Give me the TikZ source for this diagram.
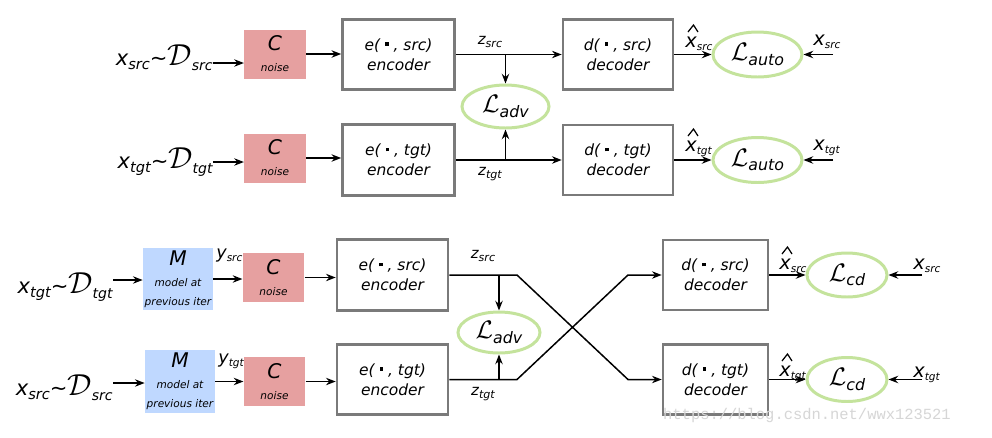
\documentclass[tikz,border=0pt]{standalone}
\usepackage{graphicx}
\usepackage{fontspec}
\setmainfont{DejaVu Sans}
\newfontfamily\wmfont{Liberation Mono}
\usetikzlibrary{arrows.meta,calc,shapes.geometric}
\definecolor{boxgray}{HTML}{7A7A7A}
\definecolor{cpink}{HTML}{E6A0A0}
\definecolor{mblue}{HTML}{BFD8FF}
\definecolor{lgreen}{HTML}{C4E39C}
\newcommand\dotsq{\raisebox{0.28em}{\rule{0.24em}{0.24em}}}
\newcommand\fs[1]{\fontsize{#1}{#1}\selectfont}
\newcommand\Lbig[1]{{\fs{13.6}$\mathcal{L}$}\raisebox{-2.5pt}{\fs{9}#1}}
\newcommand\xsub[2]{{\fs{8.5}#1}\raisebox{-2pt}{\fs{6.3}#2}}
\newcommand\xlab[2]{{\fs{11}#1}\raisebox{-1.8pt}{\fs{6}#2}}
\newcommand\dist[2]{{\fs{12}x}\raisebox{-2.8pt}{\fs{8.3}#1}{\fs{12}\textasciitilde}{\fs{18}$\mathcal{D}$}\raisebox{-3.4pt}{\fs{8}#2}}
\newcommand\Cnoise{{\fontsize{11.5}{11}\selectfont C}\\[0pt]{\fontsize{6}{7}\selectfont noise}}
\newcommand\Mmodel{{\fontsize{11.5}{11}\selectfont M}\\[0pt]{\fontsize{6}{7.2}\selectfont model at}\\[-1pt]{\fontsize{6}{7.2}\selectfont previous iter}}
\begin{document}
\begin{tikzpicture}[x=0.02cm,y=-0.02cm,
  box/.style={draw=boxgray,line width=1.5pt,fill=white,align=center,font=\itshape\fontsize{8.8}{11.5}\selectfont,inner sep=0pt},
  encbox/.style={box,minimum width=2.24cm,minimum height=1.41cm},
  decbox/.style={box,minimum width=2.15cm,minimum height=1.40cm},
  cbox/.style={fill=cpink,align=center,inner sep=0pt,font=\itshape,minimum width=1.23cm,minimum height=0.98cm},
  mbox/.style={fill=mblue,align=center,inner sep=0pt,font=\itshape,minimum width=1.4cm,minimum height=1.25cm},
  loss/.style={ellipse,draw=lgreen,line width=1.7pt,inner sep=0pt,font=\itshape},
  lbl/.style={font=\itshape,inner sep=0pt},
  arr/.style={-{Stealth[length=5.5pt,width=4.2pt]},line width=0.85pt},
  hatline/.style={line width=0.7pt,line join=miter},
  ln/.style={line width=0.85pt}]
\fill[white] (0,0) rectangle (992,437);
\useasboundingbox (0,0) rectangle (992,437);

% ---------- top section ----------
\node[lbl,anchor=base east] (t1) at (213,65) {\dist{src}{src}};
\node[lbl,anchor=base east] (t2) at (213,168) {\dist{tgt}{tgt}};
\node[cbox] (c1) at (275,54) {\Cnoise};
\node[cbox] (c2) at (275,158) {\Cnoise};
\node[encbox] (e1) at (398.5,54.5) {e( \dotsq\ , src)\\encoder};
\node[encbox] (e2) at (398.5,160) {e( \dotsq\ , tgt)\\encoder};
\node[decbox,minimum width=2.2cm] (d1) at (618,54.5) {d( \dotsq\ , src)\\decoder};
\node[decbox,minimum width=2.2cm] (d2) at (618,160) {d( \dotsq\ , tgt)\\decoder};
\node[loss,minimum width=1.74cm,minimum height=0.86cm] (adv1) at (505.5,106.5) {\Lbig{adv}};
\node[loss,minimum width=1.78cm,minimum height=0.9cm] (la1) at (757.5,54.5) {\Lbig{auto}};
\node[loss,minimum width=1.78cm,minimum height=0.9cm] (la2) at (757.5,160) {\Lbig{auto}};

\coordinate (t1e) at ($(t1.base east)+(0,-2)$);
\coordinate (t2e) at ($(t2.base east)+(0,-6)$);
\draw[arr] (t1e) -- (t1e -| c1.west);
\draw[arr] (t2e) -- (t2e -| c2.west);
\draw[arr] (c1.east) -- (c1.east -| e1.west);
\draw[arr] (c2.east) -- (c2.east -| e2.west);
\draw[arr] (e1.east) -- (e1.east -| d1.west);
\draw[arr] (e2.east) -- (e2.east -| d2.west);
\draw[arr] (adv1.north |- e1.east) -- (adv1.north);
\draw[arr] (adv1.south |- e2.east) -- (adv1.south);
\node[lbl] (zs1) at (490,42) {\xsub{z}{src}};
\node[lbl] (zt1) at (490,174) {\xsub{z}{tgt}};
\draw[arr] (d1.east) -- (d1.east -| la1.west);
\draw[arr] (d2.east) -- (d2.east -| la2.west);
\node[lbl,anchor=base west] (xh1) at (685,47) {\xlab{x}{src}};
\node[lbl,anchor=base west] (xh2) at (685,151) {\xlab{x}{tgt}};
\coordinate (r1) at (833,54.5);
\coordinate (r2) at (833,160);
\draw[arr] (r1) -- (la1.east);
\draw[arr] (r2) -- (la2.east);
\node[lbl,anchor=base west] (xs1) at (813,45) {\xlab{x}{src}};
\node[lbl,anchor=base west] (xt1) at (813,150) {\xlab{x}{tgt}};

% ---------- bottom section ----------
\node[lbl,anchor=base east] (t3) at (113,293) {\dist{tgt}{tgt}};
\node[lbl,anchor=base east] (t4) at (113,395) {\dist{src}{src}};
\node[mbox] (m1) at (178,279) {\Mmodel};
\node[mbox] (m2) at (180,381.5) {\Mmodel};
\node[cbox] (c3) at (273.5,277.5) {\Cnoise};
\node[cbox] (c4) at (274.5,381.5) {\Cnoise};
\node[encbox,minimum width=2.22cm] (e3) at (392.5,275) {e( \dotsq\ , src)\\encoder};
\node[encbox,minimum width=2.22cm] (e4) at (392.5,379.5) {e( \dotsq\ , tgt)\\encoder};
\node[decbox,minimum width=2.1cm] (d3) at (715.5,275) {d( \dotsq\ , src)\\decoder};
\node[decbox,minimum width=2.1cm] (d4) at (715.5,379.5) {d( \dotsq\ , tgt)\\decoder};
\node[loss,minimum width=1.64cm,minimum height=0.82cm] (adv2) at (499,332.5) {\Lbig{adv}};
\node[loss,minimum width=1.6cm,minimum height=0.88cm] (cd1) at (847,275) {\Lbig{cd}};
\node[loss,minimum width=1.6cm,minimum height=0.88cm] (cd2) at (847,379.5) {\Lbig{cd}};

\coordinate (t3e) at ($(t3.base east)+(0,-13)$);
\coordinate (t4e) at ($(t4.base east)+(0,-12)$);
\draw[arr] (t3e) -- (t3e -| m1.west);
\draw[arr] (t4e) -- (t4e -| m2.west);
\draw[arr] (m1.east) -- (m1.east -| c3.west);
\draw[arr] (m2.east) -- (m2.east -| c4.west);
\node[lbl,anchor=base west] (ys) at (216,258) {\xlab{\fs{10}y}{src}};
\node[lbl,anchor=base west] (yt) at (218,363) {\xlab{\fs{10}y}{tgt}};
\draw[arr] (c3.east) -- (c3.east -| e3.west);
\draw[arr] (c4.east) -- (c4.east -| e4.west);

\coordinate (k1) at (517,275);
\coordinate (k2) at (628,379.5);
\coordinate (k3) at (517,379.5);
\coordinate (k4) at (628,275);
\draw[arr] (e3.east) -- (k1) -- (k2) -- (d4.west);
\draw[arr] (e4.east) -- (k3) -- (k4) -- (d3.west);
\draw[arr] (adv2.north |- e3.east) -- (adv2.north);
\draw[arr] (adv2.south |- e4.east) -- (adv2.south);
\node[lbl] (zs2) at (483,256) {\xsub{z}{src}};
\node[lbl] (zt2) at (483,394) {\xsub{z}{tgt}};

\draw[arr] (d3.east) -- (d3.east -| cd1.west);
\draw[arr] (d4.east) -- (d4.east -| cd2.west);
\node[lbl,anchor=base west] (xh3) at (779,269) {\xlab{x}{src}};
\node[lbl,anchor=base west] (xh4) at (779,376) {\xlab{x}{tgt}};
\coordinate (r3) at (922,275);
\coordinate (r4) at (922,379.5);
\draw[arr] (r3) -- (cd1.east);
\draw[arr] (r4) -- (cd2.east);
\node[lbl,anchor=base west] (xs2) at (913,269) {\xlab{x}{src}};
\node[lbl,anchor=base west] (xt2) at (913,377) {\xlab{x}{tgt}};

% hats over the reconstructed x labels
\foreach \h in {xh1,xh2,xh3,xh4}{
  \draw[hatline] ($(\h.base west)+(3,-15)$) -- ($(\h.base west)+(8.5,-22)$) -- ($(\h.base west)+(13,-15)$);
}

\node[inner sep=0pt,text=black!16,font=\wmfont\fs{8.8}] (wm) at (807,415) {https://blog.csdn.net/wwx123521};
\end{tikzpicture}
\end{document}
